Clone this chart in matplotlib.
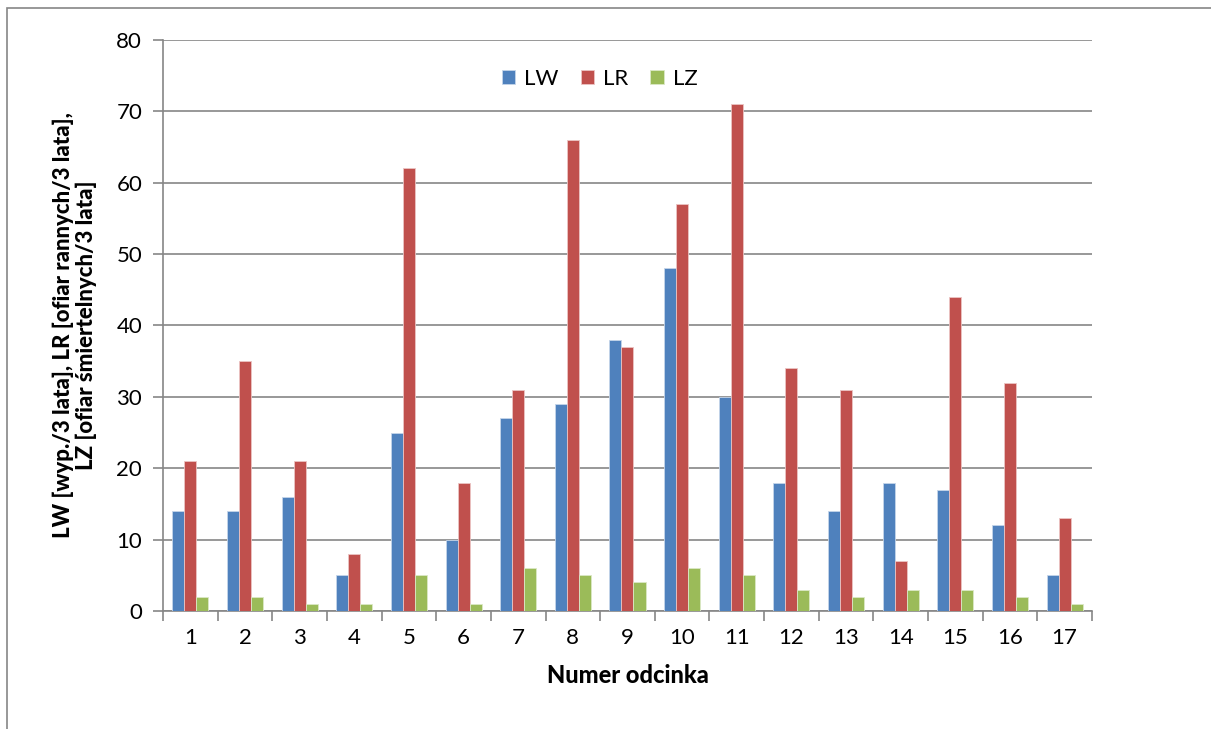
#Importing Libraries
import matplotlib.pyplot as plt
from matplotlib.patches import Rectangle
import numpy as np

plt.rcParams['font.family'] = ['Lato', 'DejaVu Sans']

#Data
odcinki = [str(i) for i in range(1, 18)]
LW = [14, 14, 16, 5, 25, 10, 27, 29, 38, 48, 30, 18, 14, 18, 17, 12, 5]
LR = [21, 35, 21, 8, 62, 18, 31, 66, 37, 57, 71, 34, 31, 7, 44, 32, 13]
LZ = [2, 2, 1, 1, 5, 1, 6, 5, 4, 6, 5, 3, 2, 3, 3, 2, 1]

x = np.arange(len(odcinki))
width = 0.22

fig = plt.figure(figsize=(12.11, 7.29), dpi=100)
ax = fig.add_axes([0.1346, 0.1619, 0.7671, 0.7832])

# outer chart border
fig.patches.append(Rectangle((0.006, -0.01), 1.0, 0.999, transform=fig.transFigure,
                             fill=False, edgecolor='#868686', linewidth=1.2))

ax.bar(x - width, LW, width, color='#4F81BD', edgecolor='#c5d5ea', linewidth=0.6, label='LW', zorder=3)
ax.bar(x, LR, width, color='#C0504D', edgecolor='#ebc4c3', linewidth=0.6, label='LR', zorder=3)
ax.bar(x + width, LZ, width, color='#9BBB59', edgecolor='#dbe8c6', linewidth=0.6, label='LZ', zorder=3)

ax.set_xlim(-0.5, len(odcinki) - 0.5)
ax.set_ylim(0, 80)
ax.set_yticks(range(0, 81, 10))
ax.set_xticks(x)
ax.set_xticklabels(odcinki)
ax.set_xticks(np.arange(-0.5, len(odcinki)), minor=True)
ax.tick_params(axis='x', which='major', length=0, pad=12, labelsize=16)
ax.tick_params(axis='x', which='minor', length=7, color='#868686', width=1.2)
ax.tick_params(axis='y', length=7, color='#868686', width=1.2, pad=8, labelsize=16)

ax.grid(axis='y', color='#868686', linewidth=1.2, zorder=0)
for s in ['top', 'right']:
    ax.spines[s].set_visible(False)
for s in ['left', 'bottom']:
    ax.spines[s].set_color('#868686')
    ax.spines[s].set_linewidth(1.2)

ax.set_ylabel('LW [wyp./3 lata], LR [ofiar rannych/3 lata],\nLZ [ofiar śmiertelnych/3 lata]',
              fontsize=16, fontweight='black', labelpad=14, linespacing=1.1)
ax.set_xlabel('Numer odcinka', fontsize=17, fontweight='black', labelpad=12)

ax.legend(loc='upper center', bbox_to_anchor=(0.47, 0.985), ncol=3, frameon=False,
          fontsize=16, handlelength=0.6, handleheight=0.6, columnspacing=1.0, handletextpad=0.4)

fig.savefig('out.png', dpi=100)
